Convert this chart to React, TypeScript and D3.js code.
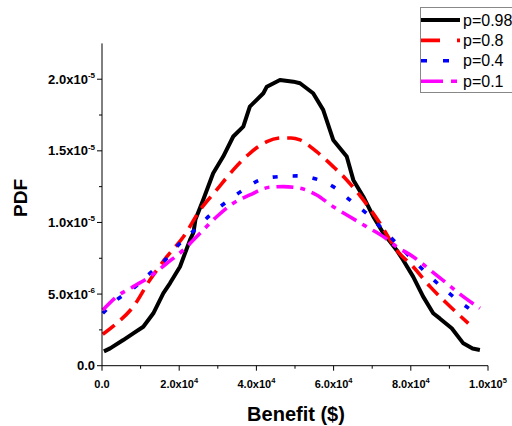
import React from "react";
import * as d3 from "d3";

// x in units of 1e3 $, y in units of 1e-6
const xP98 = [0.5, 2.1, 5.5, 8.1, 10.7, 13.3, 15.9, 17.6, 20.2, 22.8, 23.7, 24.2, 26.2, 28.8, 31.4, 34, 36.6, 38.3, 41.8, 42.7, 46.1, 49.6, 51.3, 54.7, 57.3, 59.9, 63.4, 65.1, 67.7, 70.3, 72.9, 74.5, 76.3, 78.0, 80.6, 83.2, 85.8, 87.5, 90.6, 93.6, 96.0, 97.9];
const yP98 = [1.0, 1.21, 1.79, 2.26, 2.72, 3.66, 5.06, 5.75, 6.91, 8.78, 9.3, 10.2, 11.57, 13.44, 14.6, 16.0, 16.69, 18.09, 19.02, 19.48, 19.95, 19.83, 19.72, 19.02, 17.86, 15.76, 14.6, 12.97, 11.8, 10.4, 9.25, 8.7, 8.08, 7.38, 6.22, 4.82, 3.66, 3.3, 2.61, 1.56, 1.2, 1.1];

const xP8 = [0.2, 3.8, 8.1, 12.4, 16.8, 21.1, 25.4, 29.7, 34, 38.3, 42.7, 46.5, 49, 51.3, 55.6, 59.9, 63.4, 67.7, 72, 76.3, 80.6, 85, 89.3, 94.9];
const yP8 = [2.2, 2.96, 4.12, 5.98, 7.61, 9.0, 10.87, 12.27, 13.67, 14.83, 15.64, 15.9, 15.9, 15.76, 14.94, 13.9, 12.97, 11.57, 9.94, 8.08, 6.91, 5.52, 4.36, 2.96];

const xP4 = [0.2, 3.8, 8.1, 12.4, 16.8, 20.2, 24.5, 28, 32.3, 36.6, 40.9, 45.7, 50.4, 54.7, 59.9, 64.2, 68.5, 72.9, 76.3, 80.6, 84.1, 88.4, 92.7, 97.1];
const yP4 = [3.66, 4.59, 5.4, 6.45, 7.5, 8.55, 9.6, 10.52, 11.45, 12.27, 12.97, 13.2, 13.25, 13.09, 12.5, 11.57, 10.64, 9.48, 8.55, 7.38, 6.45, 5.4, 4.47, 3.6];

const xP1 = [0.2, 3.8, 8.1, 12.4, 16.8, 21.1, 25.4, 29.7, 34, 38.3, 43.5, 47, 51.3, 55.6, 59.9, 64.2, 68.5, 72.9, 76.3, 80.6, 85, 89.3, 93.6, 97.9];
const yP1 = [3.89, 4.82, 5.52, 6.22, 7.15, 8.08, 9.25, 10.4, 11.34, 11.92, 12.46, 12.5, 12.39, 11.92, 11.1, 10.4, 9.71, 9.01, 8.31, 7.61, 6.68, 5.75, 4.82, 4.01];

const seriesNames = ["p=0.98", "p=0.8", "p=0.4", "p=0.1"];
const seriesColors = ["#000000", "#ff0000", "#0000ff", "#ff00ff"];
const seriesDash = ["none", "15 8", "5 15", "17 7 5 7"];
const legendDash = ["none", "19 17", "6 16", "22 8 6 8"];
const seriesWidth = [4, 3.6, 3.6, 3.6];

const xMajorTicks = [0, 20000, 40000, 60000, 80000, 100000];
const xTickMain = ["0.0", "2.0x10", "4.0x10", "6.0x10", "8.0x10", "1.0x10"];
const xTickExp = ["", "4", "4", "4", "4", "5"];
const yMajorTicks = [0, 5e-6, 1e-5, 1.5e-5, 2e-5];
const yTickMain = ["0.0", "5.0x10", "1.0x10", "1.5x10", "2.0x10"];
const yTickExp = ["", "-6", "-5", "-5", "-5"];

const FONT = "'Liberation Sans', Arial, sans-serif";

export default function App() {
  const x = d3.scaleLinear().domain([0, 100000]).range([102, 488]);
  const y = d3.scaleLinear().domain([0, 2.25e-5]).range([365.7, 43.4]);

  const allX = [xP98, xP8, xP4, xP1];
  const allY = [yP98, yP8, yP4, yP1];
  const paths = allX.map((xs, i) => {
    const pts: [number, number][] = xs.map((v, j) => [v * 1000, allY[i][j] * 1e-6]);
    const gen = d3
      .line<[number, number]>()
      .x((d) => x(d[0]))
      .y((d) => y(d[1]))
      .curve(i === 0 ? d3.curveLinear : d3.curveMonotoneX);
    return gen(pts) as string;
  });

  const xMinor = d3.range(10000, 100000, 20000);
  const yMinor = d3.range(2.5e-6, 2.25e-5, 5e-6);

  const y0 = y(0);
  const x0 = x(0);

  return (
    <svg
      width={512}
      height={426}
      style={{ position: "absolute", left: 0, top: 0, background: "#fff" }}
      fontFamily={FONT}
    >
      <rect x={0} y={0} width={512} height={426} fill="#fff" />
      {/* curves */}
      {paths.map((d, i) => (
        <path
          key={i}
          d={d}
          fill="none"
          stroke={seriesColors[i]}
          strokeWidth={seriesWidth[i]}
          strokeDasharray={seriesDash[i]}
          strokeLinejoin="round"
        />
      ))}
      {/* axes */}
      <line x1={x0} x2={x0} y1={y(2.25e-5)} y2={y0} stroke="#000" strokeWidth={1} />
      <line x1={x0} x2={x(100000)} y1={y0} y2={y0} stroke="#000" strokeWidth={1} />
      {yMajorTicks.map((t, i) => (
        <g key={"yt" + i}>
          <line x1={x0 - 5} x2={x0} y1={y(t)} y2={y(t)} stroke="#000" strokeWidth={1} />
          <text x={95} y={y(t) + 4.5} textAnchor="end" fontSize={13} fontWeight="bold">
            {yTickMain[i]}
            {yTickExp[i] && (
              <tspan fontSize={8} dy={-5.5}>
                {yTickExp[i]}
              </tspan>
            )}
          </text>
        </g>
      ))}
      {yMinor.map((t, i) => (
        <line key={"ym" + i} x1={x0 - 3} x2={x0} y1={y(t)} y2={y(t)} stroke="#000" strokeWidth={1} />
      ))}
      {xMajorTicks.map((t, i) => (
        <g key={"xt" + i}>
          <line x1={x(t)} x2={x(t)} y1={y0} y2={y0 + 5} stroke="#000" strokeWidth={1} />
          <text x={x(t)} y={388} textAnchor="middle" fontSize={11} fontWeight="bold">
            {xTickMain[i]}
            {xTickExp[i] && (
              <tspan fontSize={7.5} dy={-5}>
                {xTickExp[i]}
              </tspan>
            )}
          </text>
        </g>
      ))}
      {xMinor.map((t, i) => (
        <line key={"xm" + i} x1={x(t)} x2={x(t)} y1={y0} y2={y0 + 3} stroke="#000" strokeWidth={1} />
      ))}
      {/* axis titles */}
      <text x={296} y={421} textAnchor="middle" fontSize={20} fontWeight="bold">
        Benefit ($)
      </text>
      <text
        transform={`translate(26.5,198) rotate(-90)`}
        textAnchor="middle"
        fontSize={19}
        fontWeight="bold"
      >
        PDF
      </text>
      {/* legend */}
      <rect x={420.5} y={7.5} width={100} height={85} fill="#fff" stroke="#888" strokeWidth={1} />
      {seriesNames.map((name, i) => {
        const cy = 20 + i * 20.4;
        return (
          <g key={"lg" + i}>
            <line
              x1={421}
              x2={460}
              y1={cy}
              y2={cy}
              stroke={seriesColors[i]}
              strokeWidth={seriesWidth[i]}
              strokeDasharray={legendDash[i]}
            />
            <text x={463} y={cy + 5.5} fontSize={16}>
              {name}
            </text>
          </g>
        );
      })}
    </svg>
  );
}
